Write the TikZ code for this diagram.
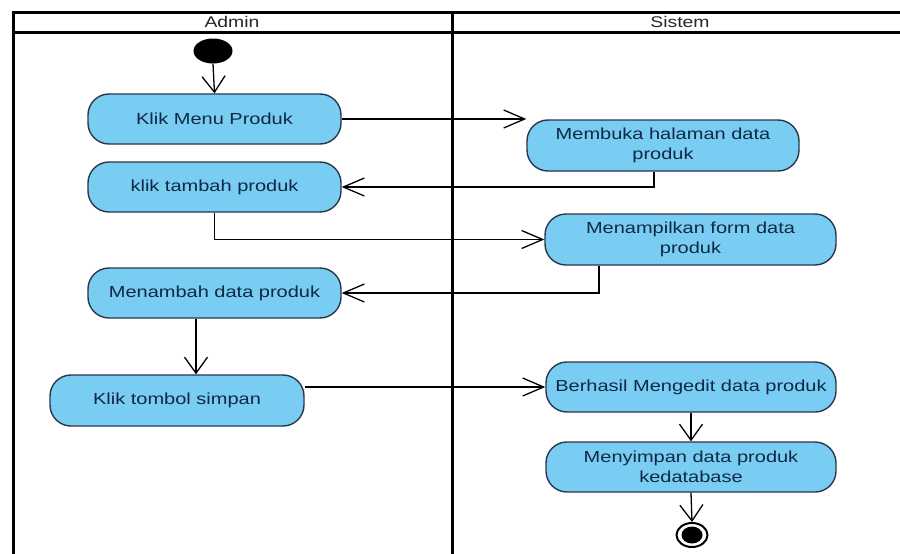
\documentclass[tikz,border=0pt]{standalone}
\usepackage{fontspec}
\setmainfont[FakeStretch=1.25]{Liberation Sans}
\usetikzlibrary{arrows.meta,shapes.geometric}
\definecolor{actfill}{RGB}{122,205,242}
\definecolor{actdraw}{RGB}{40,55,75}
\definecolor{acttext}{RGB}{15,40,70}
\tikzset{
  activity/.style={draw=actdraw, fill=actfill, line width=1.4pt, rounded corners=21pt,
    text=acttext, align=center, inner sep=0pt,
    font=\fontsize{16}{20}\selectfont},
  lane/.style={draw=black, line width=3pt},
  lanetitle/.style={text=black!85, font=\fontsize{15.5}{18}\selectfont, inner sep=0pt},
  harrow/.style={line width=1.3pt, -{Straight Barb[length=21pt,width=18pt,line width=1.3pt]}},
  varrow/.style={line width=1.3pt, -{Straight Barb[length=16pt,width=23pt,line width=1.3pt]}},
}
\begin{document}
\begin{tikzpicture}[x=1pt,y=-1pt]
\useasboundingbox (0,0) rectangle (900,554);
\fill[white] (0,0) rectangle (900,554);
% swimlane frame
\draw[lane] (13,560) -- (13,12) -- (910,12);
\draw[lane] (13,32) -- (910,32);
\draw[lane] (452,12) -- (452,560);
\node[lanetitle] (tadmin) at (232,22) {Admin};
\node[lanetitle] (tsistem) at (680,22) {Sistem};
% nodes
\node[shape=ellipse, fill=black, minimum width=39pt, minimum height=25pt, inner sep=0pt] (start) at (213,51) {};
\node[activity, minimum width=253pt, minimum height=50pt] (n1) at (214.5,119) {Klik Menu Produk};
\node[activity, minimum width=253pt, minimum height=50pt] (n2) at (214.5,187) {klik tambah produk};
\node[activity, minimum width=253pt, minimum height=50pt] (n3) at (214.5,293) {Menambah data produk};
\node[activity, minimum width=254pt, minimum height=51pt] (n4) at (177,400.5) {Klik tombol simpan};
\node[activity, minimum width=272pt, minimum height=51pt] (m1) at (663,145.5) {Membuka halaman data\\produk};
\node[activity, minimum width=291pt, minimum height=51pt] (m2) at (690.5,239.5) {Menampilkan form data\\produk};
\node[activity, minimum width=290pt, minimum height=50pt] (m3) at (691,387) {Berhasil Mengedit data produk};
\node[activity, minimum width=290pt, minimum height=50pt] (m4) at (691,467) {Menyimpan data produk\\kedatabase};
\node[shape=ellipse, draw=black, line width=2pt, fill=white, minimum width=31pt, minimum height=24pt, inner sep=0pt] (end) at (692,535) {};
\node[shape=ellipse, fill=black, minimum width=21pt, minimum height=17pt, inner sep=0pt] (endin) at (692,535) {};
% connectors
\draw[varrow] (start.south) -- (n1.north);
\draw[harrow] (n1.east) -- (n1.east -| m1.west);
\draw[harrow] ([xshift=-9pt]m1.south) |- (n2.east);
\draw[harrow] (n2.south) |- (m2.west);
\draw[harrow] ([xshift=-91.5pt]m2.south) |- (n3.east);
\draw[varrow] ([xshift=-18.5pt]n3.south) -- ([xshift=-18.5pt]n3.south |- n4.north);
\draw[harrow] (m3.west -| n4.east) -- (m3.west);
\draw[varrow] (m3.south) -- (m4.north);
\draw[varrow] (m4.south) -- (end.north);
\end{tikzpicture}
\end{document}
